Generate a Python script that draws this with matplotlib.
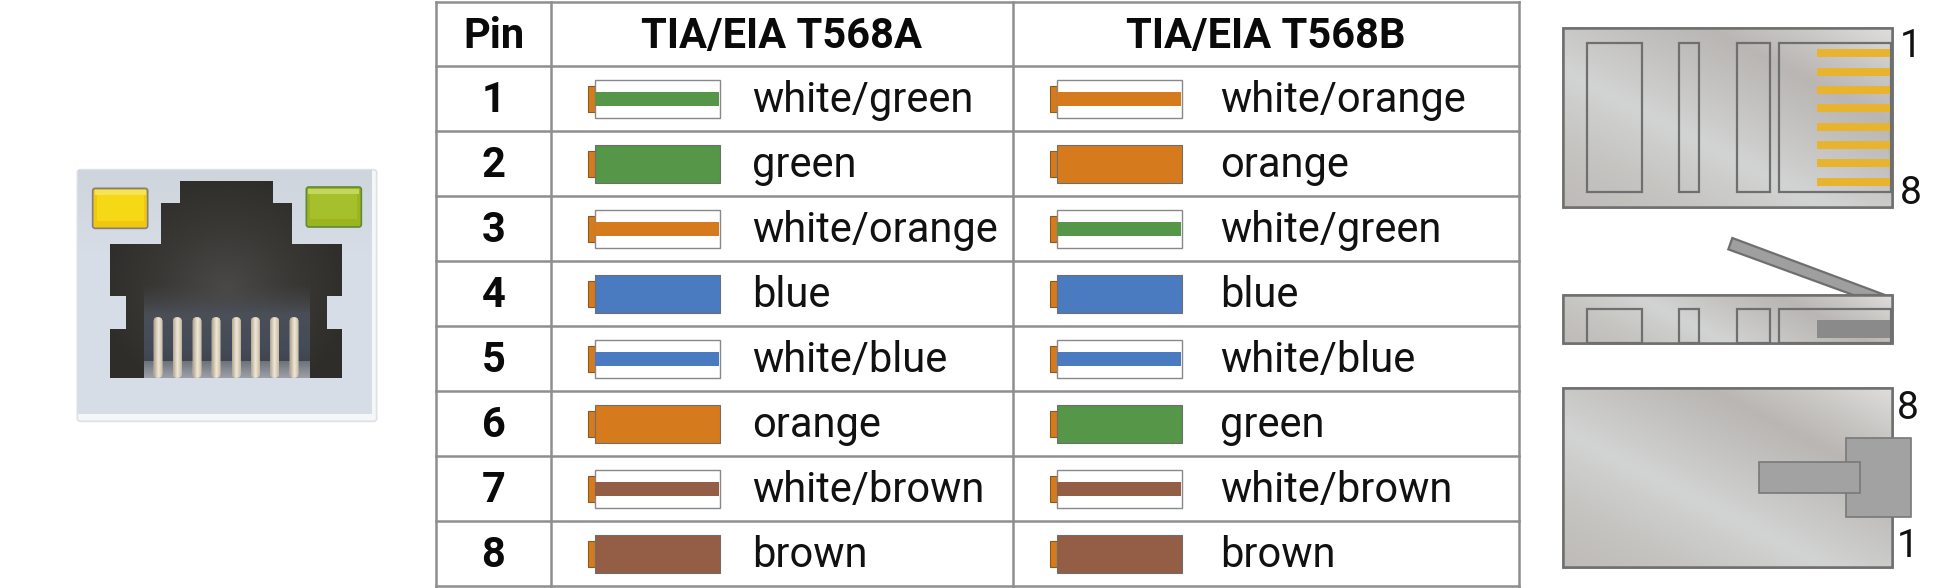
import numpy as np
from matplotlib import pyplot as plt
from matplotlib.colors import LinearSegmentedColormap
from matplotlib.patches import Polygon, Rectangle, FancyBboxPatch

plt.rcParams['font.family'] = ['Roboto', 'DejaVu Sans']

# Table content
headers = ["Pin", "TIA/EIA T568A", "TIA/EIA T568B"]
pins = ["1", "2", "3", "4", "5", "6", "7", "8"]
t568a = ["white/green", "green", "white/orange", "blue",
         "white/blue", "orange", "white/brown", "brown"]
t568b = ["white/orange", "orange", "white/green", "blue",
         "white/blue", "green", "white/brown", "brown"]
wire_colors = {"green": "#559648", "orange": "#D57B1E",
               "blue": "#4A7ABF", "brown": "#945D45"}

# Table layout, in pixels
col_lines = [436, 551, 1013, 1519]
row_top = 66
row_h = 65
swatch_x = [595, 1057]
label_x = [752, 1220]

fig = plt.figure(figsize=(19.55, 5.88), dpi=100)
ax = fig.add_axes([0, 0, 1, 1])
ax.set_xlim(0, 1955)
ax.set_ylim(588, 0)
ax.axis('off')


# Fill a patch with an image, clipped to it
def shade(patch, img, cmap, extent, z):
    im = ax.imshow(img, cmap=cmap, extent=extent, aspect='auto', zorder=z,
                   interpolation='bilinear', vmin=0, vmax=1)
    im.set_clip_path(patch)
    ax.set_xlim(0, 1955)
    ax.set_ylim(588, 0)


# Table grid
grid = "#8E8E8E"
for x in col_lines:
    ax.plot([x, x], [1.5, 586.5], color=grid, lw=1.8, zorder=2)
ax.plot([436, 1519], [1.5, 1.5], color=grid, lw=1.8, zorder=2)
for i in range(len(pins) + 1):
    y = row_top + i * row_h
    ax.plot([436, 1519], [y, y], color=grid, lw=1.8, zorder=2)

# Header row
for i, h in enumerate(headers):
    xc = (col_lines[i] + col_lines[i + 1]) / 2
    ax.text(xc, 48, h, ha='center', va='baseline', fontsize=30,
            fontweight='bold', color='#0a0a0a')


def wire(x, y, name):
    w, h = 125, 38
    ax.add_patch(Rectangle((x - 7, y + 6), 7, 26, fc=wire_colors["orange"],
                           ec="#8A5A20", lw=0.8, zorder=3))
    if name.startswith("white/"):
        col = wire_colors[name.split("/")[1]]
        ax.add_patch(Rectangle((x, y), w, h, fc="white", ec="#888888", lw=1, zorder=3))
        ax.add_patch(Rectangle((x + 0.5, y + 12), w - 1, 14, fc=col, ec='none', zorder=4))
    else:
        col = wire_colors[name]
        ax.add_patch(Rectangle((x, y), w, h, fc=col, ec="#6E6E6E", lw=0.8, zorder=3))


# Table rows
for i, p in enumerate(pins):
    top = row_top + i * row_h
    ax.text((col_lines[0] + col_lines[1]) / 2, top + 46, p, ha='center', va='baseline',
            fontsize=30, fontweight='bold', color='#0a0a0a')
    for j, name in enumerate([t568a[i], t568b[i]]):
        wire(swatch_x[j], top + 14, name)
        ax.text(label_x[j], top + 46, name, ha='left', va='baseline',
                fontsize=30, color='#111111')


# ---- RJ45 socket on the left
def jx(v):
    return 50 + v / 3


def jy(v):
    return 150 + v / 3


plate = FancyBboxPatch((jx(82), jy(59)), 898 / 3, 755 / 3, boxstyle="round,pad=0,rounding_size=3",
                       fc="#F4F6F8", ec="#DDE1E6", lw=1.2, zorder=1)
ax.add_patch(plate)
face = Rectangle((jx(84), jy(60)), 882 / 3, 733 / 3, fc="#D6DDE6", ec='none', zorder=1.2)
ax.add_patch(face)
face_cmap = LinearSegmentedColormap.from_list("face", ["#CFD5DD", "#D6DDE6", "#D6DDE6", "#D6DDE6"])
shade(face, np.linspace(0, 1, 50)[:, None], face_cmap, (jx(84), jx(966), jy(793), jy(60)), 1.3)

yy, xx = np.mgrid[0:1:200j, 0:1:200j]
body_cmap = LinearSegmentedColormap.from_list("body", ["#4A4947", "#3A3936", "#2E2D2A"])
hole_xs = [389, 670, 670, 726, 726, 877, 877, 831, 831, 877, 877, 181, 181, 228, 228, 181, 181, 333, 333, 389]
hole_ys = [94, 94, 158, 158, 282, 282, 438, 438, 538, 538, 683, 683, 538, 538, 438, 438, 282, 282, 158, 158]
body = Polygon([(jx(a), jy(b)) for a, b in zip(hole_xs, hole_ys)], closed=True, fc="#333230", ec='none', zorder=2)
ax.add_patch(body)
r = np.clip(np.sqrt(((xx - 0.5) / 0.55) ** 2 + ((yy - 0.55) / 0.6) ** 2), 0, 1)
shade(body, r, body_cmap, (jx(181), jx(877), jy(683), jy(94)), 2.1)

# Inner part of the socket, fades from the body colour to blue-grey
inner = Rectangle((jx(281), jy(400)), 496 / 3, 283 / 3, fc='none', ec='none', zorder=2.2)
ax.add_patch(inner)
inner_cmap = LinearSegmentedColormap.from_list(
    "inner", [(0.29, 0.29, 0.30, 0.0), (0.30, 0.32, 0.36, 0.9), (0.27, 0.30, 0.35, 1.0), (0.22, 0.24, 0.28, 1.0)])
shade(inner, np.linspace(0, 1, 100)[:, None], inner_cmap, (jx(281), jx(777), jy(683), jy(400)), 2.2)
band = Rectangle((jx(281), jy(633)), 496 / 3, 50 / 3, fc='none', ec='none', zorder=2.3)
ax.add_patch(band)
band_cmap = LinearSegmentedColormap.from_list("band", ["#6E737C", "#9BA0A8"])
shade(band, np.linspace(0, 1, 20)[:, None], band_cmap, (jx(281), jx(777), jy(683), jy(633)), 2.3)

# Socket contacts
contact_cmap = LinearSegmentedColormap.from_list("pin", ["#B7A78F", "#EFE8DA", "#C8B9A2"])
for c in [324, 382, 441, 498, 559, 616, 674, 732]:
    pin = FancyBboxPatch((jx(c - 13), jy(502)), 26 / 3, 181 / 3, boxstyle="round,pad=0,rounding_size=4",
                         fc="#DCD2C0", ec='none', zorder=3)
    ax.add_patch(pin)
    shade(pin, np.linspace(0, 1, 30)[None, :], contact_cmap, (jx(c - 13), jx(c + 13), jy(683), jy(502)), 3.1)

# LEDs
for x0, y0, col, inner_col, top_col, edge in [(128, 115, "#F2C80F", "#F5D916", "#F7E25A", "#808080"),
                                              (769, 111, "#9CB41E", "#A6C02C", "#C4D65E", "#5E8A3C")]:
    ax.add_patch(FancyBboxPatch((jx(x0), jy(y0)), 165 / 3, 120 / 3, boxstyle="round,pad=0,rounding_size=2.5",
                                fc=col, ec=edge, lw=1.2, zorder=3))
    ax.add_patch(Rectangle((jx(x0 + 6), jy(y0 + 6)), 153 / 3, 15 / 3, fc=top_col, ec='none', zorder=3.1))
    ax.add_patch(Rectangle((jx(x0 + 12), jy(y0 + 21)), 141 / 3, 76 / 3, fc=inner_col, ec='none', zorder=3.1))


# ---- RJ45 plug drawings on the right
def px(v):
    return 1540 + v / 3


def py(v):
    return v / 3


plug_edge = "#6F6F6F"
plug_cmap = LinearSegmentedColormap.from_list(
    "plug", [(0, "#BEBBB8"), (0.2, "#C6C5C2"), (0.39, "#D2D4D3"), (0.55, "#C6C5C3"),
             (0.73, "#B9B6B3"), (0.85, "#C8C6C3"), (1, "#DEDDDB")])


def plug_body(x0, y0, x1, y1):
    w, h = x1 - x0, y1 - y0
    rect = Rectangle((px(x0), py(y0)), w / 3, h / 3, fc="#C8C7C4", ec=plug_edge, lw=1.8, zorder=2)
    ax.add_patch(rect)
    yg, xg = np.mgrid[0:1:150j, 0:1:250j]
    t = (xg * w * 0.46 + (1 - yg) * h * 0.89) / (w * 0.46 + h * 0.89)
    shade(rect, t, plug_cmap, (px(x0), px(x1), py(y1), py(y0)), 2.1)
    ax.add_patch(Rectangle((px(x0), py(y0)), w / 3, h / 3, fc='none', ec=plug_edge, lw=1.8, zorder=2.5))


window_x = [(140, 307), (418, 476), (590, 689), (718, 1053)]
contact_y = [160, 215, 270, 325, 380, 435, 490, 545]

# Top view
plug_body(70, 85, 1057, 620)
for a, b in window_x:
    ax.add_patch(Rectangle((px(a), py(128)), (b - a) / 3, 449 / 3, fc='none', ec=plug_edge, lw=1.6, zorder=3))
for c in contact_y:
    ax.add_patch(Rectangle((px(831), py(c - 12)), 219 / 3, 24 / 3, fc="#E8B32F", ec='none', zorder=4))

# Side view, with the latch sticking out
ax.add_patch(Polygon([(px(577), py(714)), (px(1035), py(885)), (px(940), py(885)), (px(565), py(748))],
                     closed=True, fc="#A09FA0", ec=plug_edge, lw=1.6, zorder=1.8))
plug_body(70, 885, 1057, 1028)
for a, b in window_x:
    ax.add_patch(Rectangle((px(a), py(928)), (b - a) / 3, 100 / 3, fc='none', ec=plug_edge, lw=1.6, zorder=3))
ax.add_patch(Rectangle((px(830), py(960)), 220 / 3, 55 / 3, fc="#8A8A8A", ec='none', zorder=4))

# Bottom view
plug_body(70, 1165, 1057, 1700)
ax.add_patch(Rectangle((px(918), py(1314)), 194 / 3, 238 / 3, fc="#A3A2A3", ec="#787878", lw=1.2, zorder=4))
ax.add_patch(Rectangle((px(657), py(1387)), 302 / 3, 91 / 3, fc="#A3A2A3", ec="#787878", lw=1.2, zorder=5))

# Pin numbers next to the plugs
for x, y, s in [(1080, 170, "1"), (1080, 613, "8"), (1071, 1258, "8"), (1071, 1672, "1")]:
    ax.text(px(x), py(y), s, ha='left', va='baseline', fontsize=28,
            family=['Liberation Sans Narrow', 'Roboto'], color='#111111')

fig.savefig('out.png', dpi=100, facecolor='white')
